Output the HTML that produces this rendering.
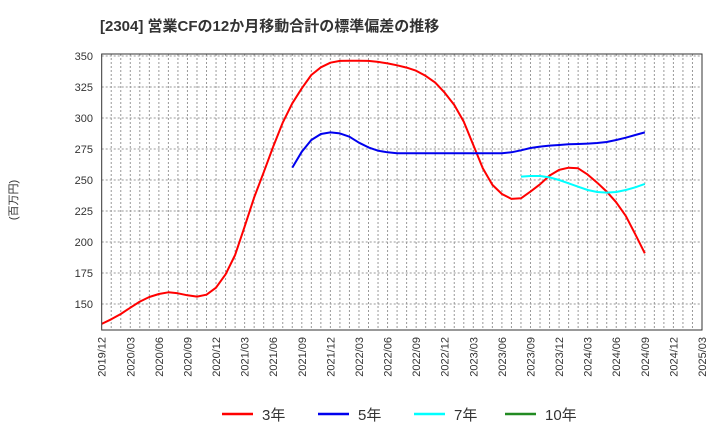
<!DOCTYPE html>
<html><head><meta charset="utf-8"><style>
body{margin:0;background:#fff;width:720px;height:440px;overflow:hidden}
text{font-family:"Liberation Sans","Noto Sans CJK JP",sans-serif}
</style></head><body>
<svg id="chart" width="720" height="440" xmlns="http://www.w3.org/2000/svg">
<text x="100" y="31" font-size="15" font-weight="bold" fill="#333">[2304]  営業CFの12か月移動合計の標準偏差の推移</text>
<text transform="translate(17,200) rotate(-90)" text-anchor="middle" font-size="11" fill="#333">(百万円)</text>
<g id="grid"></g>
<g id="yticks"></g>
<g id="xticks"></g>
<g id="series"></g>
<rect x="101.7" y="54" width="600.3" height="276" fill="none" stroke="#333" stroke-width="1"/>
<g id="legend"></g>
</svg>
<script>
const yTicks=[150,175,200,225,250,275,300,325,350];
const xLabels=["2019/12","2020/03","2020/06","2020/09","2020/12","2021/03","2021/06","2021/09","2021/12","2022/03","2022/06","2022/09","2022/12","2023/03","2023/06","2023/09","2023/12","2024/03","2024/06","2024/09","2024/12","2025/03"];
const s3=[133.9,137.6,141.9,147,151.9,155.6,158,159.4,158.6,157,155.9,157.5,163.1,173.9,189.5,212.3,236,256.2,276.9,296.2,311.8,323.9,334.7,340.9,344.6,346,346.2,346.2,346,345.2,344,342.5,340.6,338.1,333.9,328.5,320.4,310.5,297,278.2,259.4,246,238.7,234.7,235.2,240.6,246.5,253.5,258.1,259.9,259.4,254.3,247.8,240.6,232,221,206.2,190.9];
const s5start=20;
const s5=[260,272.8,282.2,287.1,288.4,287.6,284.9,280.1,276.3,273.6,272.3,271.5,271.5,271.5,271.5,271.5,271.5,271.5,271.5,271.5,271.5,271.5,271.5,272.3,273.9,275.8,276.9,277.7,278.2,278.8,279,279.3,279.8,280.6,282.2,284.1,286.3,288.4];
const s7start=44;
const s7=[252.7,253.2,253.2,252.1,250,247.3,244.6,241.9,240.3,239.8,240.3,241.9,244.1,246.8];
const s10=[];
const X0=101.7,X1=702,Y0=54,Y1=330,YMIN=129,YMAX=351.6,NM=63;
const xs=i=>X0+(X1-X0)*i/NM;
const ys=v=>Y1-(v-YMIN)/(YMAX-YMIN)*(Y1-Y0);
const NS="http://www.w3.org/2000/svg";
function mk(t,a,p){const e=document.createElementNS(NS,t);for(const k in a)e.setAttribute(k,a[k]);p.appendChild(e);return e;}
const grid=document.getElementById('grid');
for(let i=1;i<NM;i++){const l=mk('line',{x1:xs(i),x2:xs(i),y1:Y0,y2:Y1,stroke:'#999','stroke-dasharray':'2,2','stroke-width':1},grid);

}
const yt=document.getElementById('yticks');
yTicks.forEach(v=>{const l=mk('line',{x1:X0,x2:X1,y1:ys(v),y2:ys(v),stroke:'#999','stroke-dasharray':'2,2','stroke-width':1},grid);


const t=mk('text',{x:93,y:ys(v)+4,'text-anchor':'end','font-size':11,fill:'#333'},yt);t.textContent=v;

});
const xt=document.getElementById('xticks');
xLabels.forEach((s,i)=>{const x=xs(i*3);const t=mk('text',{transform:`translate(${x+4},337) rotate(-90)`,'text-anchor':'end','font-size':11,fill:'#333'},xt);t.textContent=s;

});
const ser=document.getElementById('series');
function line(arr,start,col,name){if(!arr.length)return;const d=arr.map((v,i)=>(i?'L':'M')+xs(start+i).toFixed(1)+','+ys(v).toFixed(1)).join('');
const p=mk('path',{d:d,fill:'none',stroke:col,'stroke-width':2,'stroke-linejoin':'round'},ser);

}
line(s3,0,'#ff0000','line-3y');
line(s5,s5start,'#0000ee','line-5y');
line(s7,s7start,'#00ffff','line-7y');
line(s10,0,'#228b22','line-10y');
const lg=document.getElementById('legend');
[['3年','#ff0000',222],['5年','#0000ee',318],['7年','#00ffff',414],['10年','#228b22',505]].forEach(([n,c,x])=>{
const g=mk('g',{},lg);


mk('line',{x1:x,x2:x+31,y1:414,y2:414,stroke:c,'stroke-width':2.5},g);
const t=mk('text',{x:x+40,y:420,'font-size':15,fill:'#333'},g);t.textContent=n;});
</script>
</body></html>
